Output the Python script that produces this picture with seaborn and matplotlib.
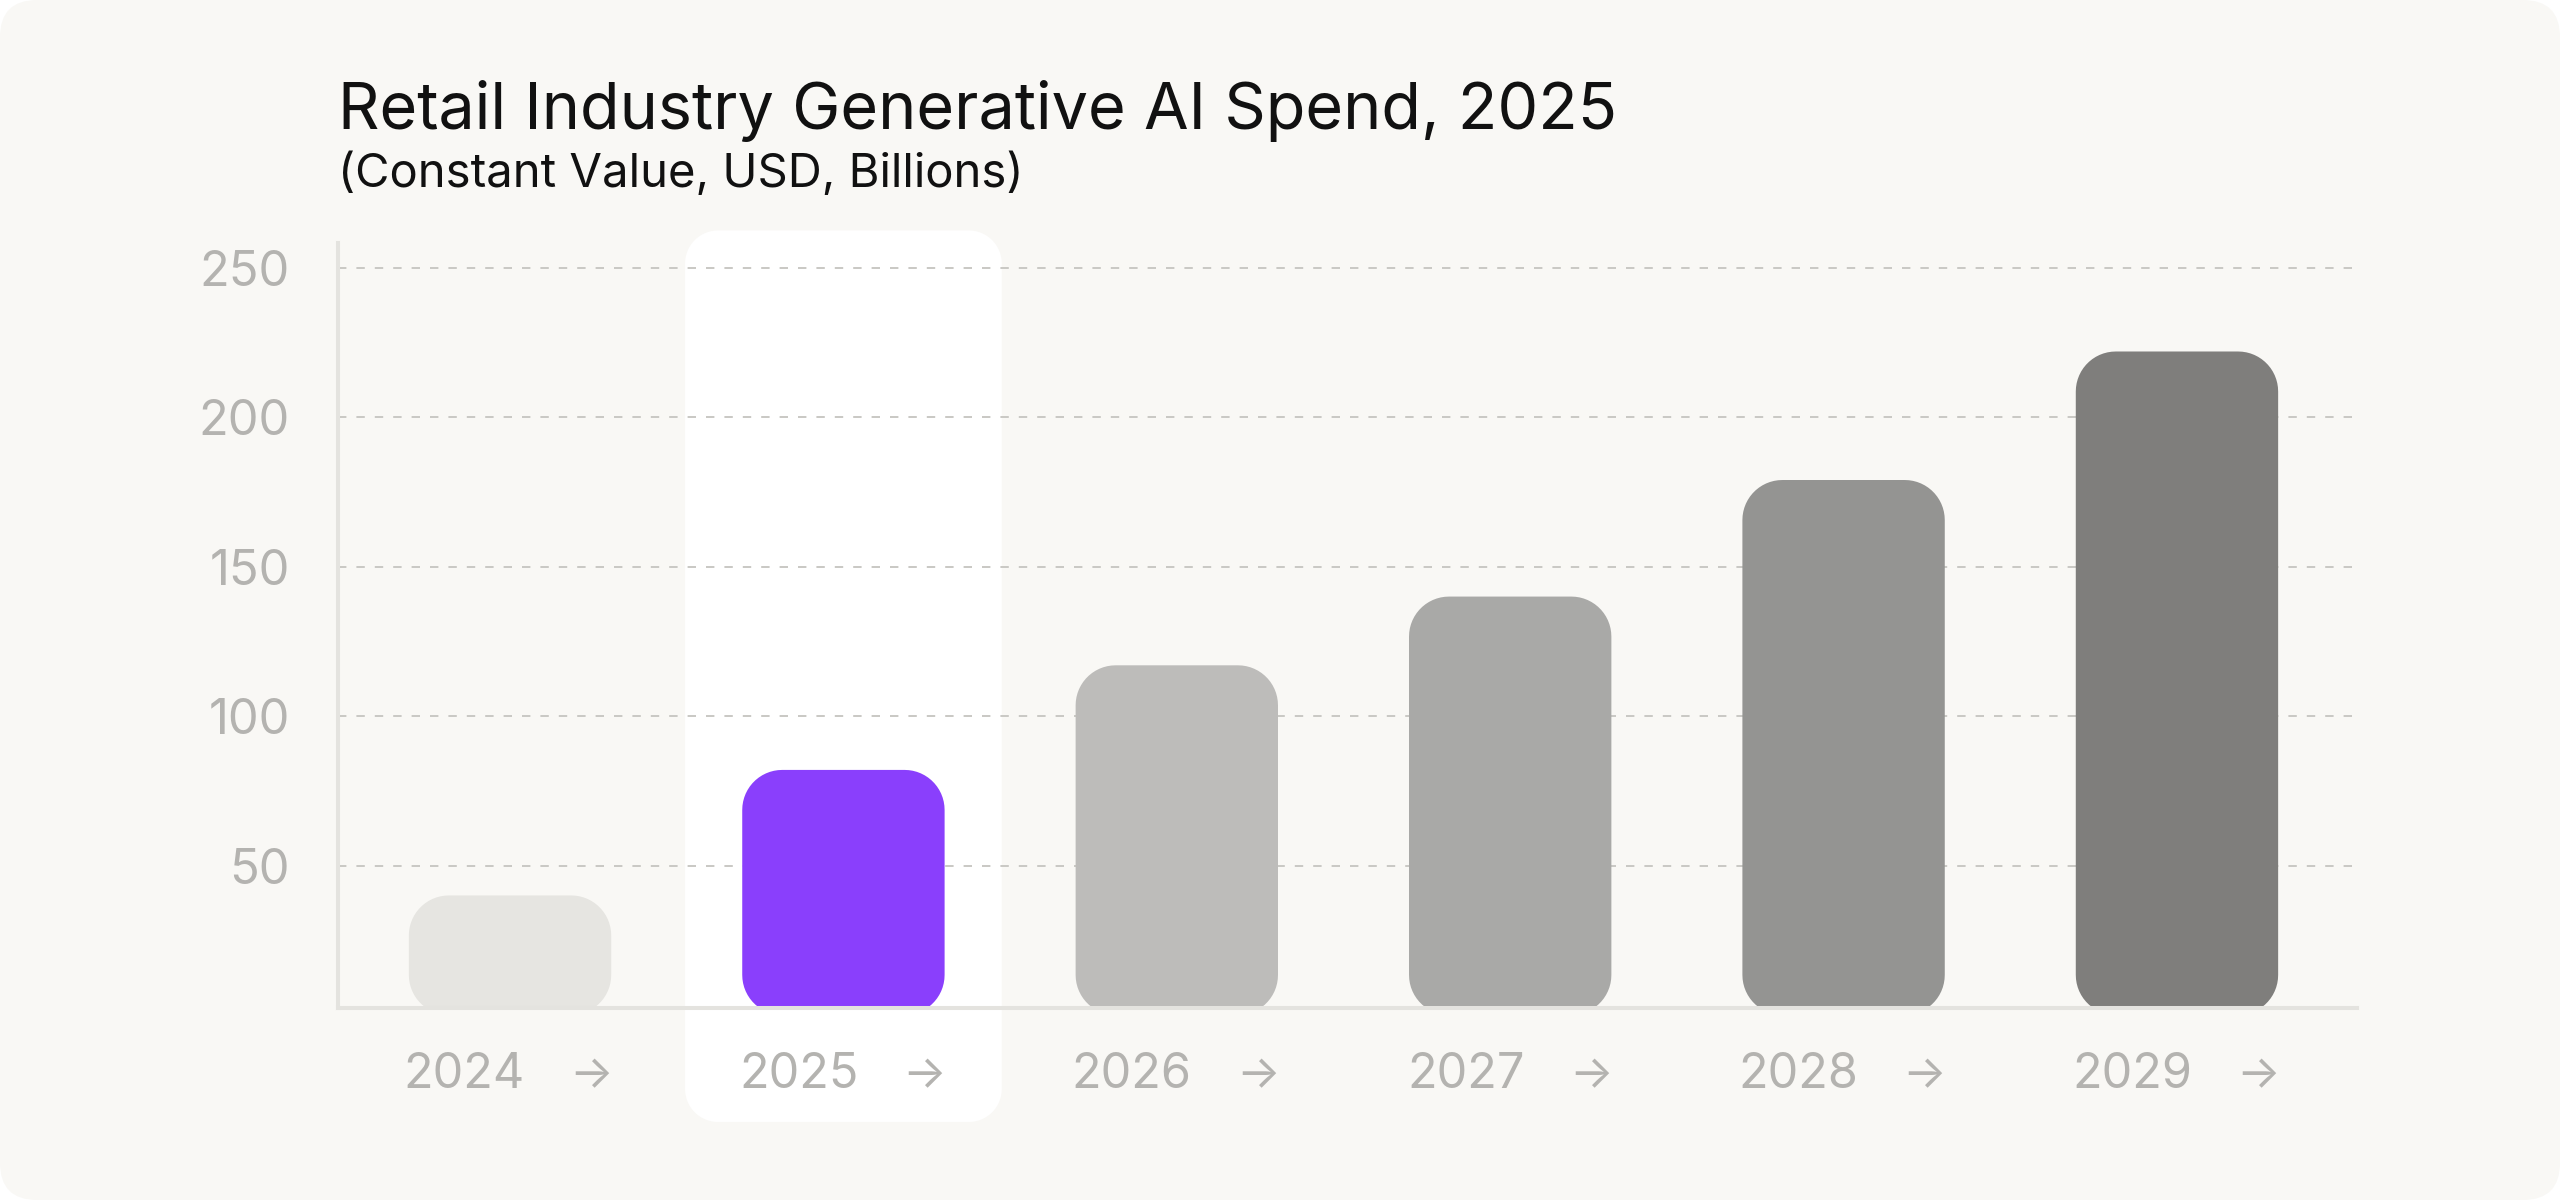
import matplotlib
matplotlib.use("Agg")
import matplotlib.pyplot as plt
from matplotlib.patches import FancyBboxPatch, Polygon
import seaborn as sns
import pandas as pd
import numpy as np

# data
years = ["2024", "2025", "2026", "2027", "2028", "2029"]
spend = [40, 82, 117, 140, 179, 222]
bar_colors = ["#e6e5e1", "#8a3ffc", "#bdbcba", "#a9a9a7", "#949492", "#7f7e7c"]
y_ticks = [50, 100, 150, 200, 250]
highlight = "2025"

title = "Retail Industry Generative AI Spend, 2025"
subtitle = "(Constant Value, USD, Billions)"

card_bg = "#f9f8f5"
label_grey = "#b4b3b0"

sns.set_theme(style="white")
plt.rcParams["font.family"] = ["Inter", "DejaVu Sans"]

W, H = 2560, 1200
fig = plt.figure(figsize=(W / 100, H / 100), dpi=100, facecolor="white")

# rounded card behind everything
card = FancyBboxPatch((0, 0), 1, 1, boxstyle="round,pad=0,rounding_size=0.0145",
                      mutation_aspect=W / H, transform=fig.transFigure,
                      fc=card_bg, ec="none", zorder=-10)
fig.patches.append(card)

ax_l, ax_r, ax_t, ax_b = 338, 2357, 243, 1008
ax = fig.add_axes([ax_l / W, 1 - ax_b / H, (ax_r - ax_l) / W, (ax_b - ax_t) / H])
ax.set_facecolor(card_bg)

df = pd.DataFrame({"year": years, "spend": spend})
sns.barplot(data=df, x="year", y="spend", hue="year", palette=bar_colors,
            width=0.607, legend=False, ax=ax, saturation=1)

xlim = (-0.516, 5.54)
ylim = (2.34, 258.3)
ax.set_xlim(*xlim)
ax.set_ylim(*ylim)

# data units per pixel, so corners come out circular on screen
x_per_px = (xlim[1] - xlim[0]) / (ax_r - ax_l)
y_per_px = (ylim[1] - ylim[0]) / (ax_b - ax_t)


def rounded_rect(x, y, w, h, r_px, **kw):
    rx, ry = r_px * x_per_px, r_px * y_per_px
    t = np.linspace(0, np.pi / 2, 16)
    pts = []
    # corners: top-right, top-left, bottom-left, bottom-right
    for cx, cy, a0 in [(x + w - rx, y + h - ry, 0), (x + rx, y + h - ry, np.pi / 2),
                       (x + rx, y + ry, np.pi), (x + w - rx, y + ry, 1.5 * np.pi)]:
        pts.append(np.column_stack([cx + rx * np.cos(a0 + t), cy + ry * np.sin(a0 + t)]))
    return Polygon(np.vstack(pts), closed=True, **kw)


# swap the plain bars for rounded ones
for p in list(ax.patches):
    x, y = p.get_x(), p.get_y()
    w, h = p.get_width(), p.get_height()
    fc = p.get_facecolor()
    p.remove()
    ax.add_patch(rounded_rect(x, y, w, h, 40, fc=fc, ec="none", zorder=2))

# white highlight column behind the selected year
hi = years.index(highlight)
ax.add_patch(rounded_rect(hi - 0.475, -35.8, 0.95, 298.3, 33, fc="white", ec="none",
                          zorder=0.2, clip_on=False))

# grid and spines
ax.set_axisbelow(True)
ax.set_yticks(y_ticks)
ax.yaxis.grid(True, color="#cac9c5", linewidth=1.44, linestyle=(0, (4.2, 5)))
ax.xaxis.grid(False)
for side in ["top", "right"]:
    ax.spines[side].set_visible(False)
for side in ["left", "bottom"]:
    ax.spines[side].set_color("#e4e3df")
    ax.spines[side].set_linewidth(2.9)
    ax.spines[side].set_zorder(3)

ax.tick_params(axis="y", length=0, pad=34.5, labelsize=35.2, labelcolor=label_grey)
ax.set_xticks([])
ax.set_xlabel("")
ax.set_ylabel("")

# year labels with arrows
trans = ax.get_xaxis_transform()
for i, yr in enumerate(years):
    ax.text(i + 0.045, -0.105, yr, transform=trans, ha="right", va="baseline",
            fontsize=35, color=label_grey)
    ax.text(i + 0.243, -0.105, "\u2192", transform=trans, ha="center", va="baseline",
            fontsize=33, color=label_grey)

fig.text(338 / W, 1 - 129 / H, title, ha="left", va="baseline",
         fontsize=46.6, color="#111111")
fig.text(338 / W, 1 - 187 / H, subtitle, ha="left", va="baseline",
         fontsize=34, color="#111111")

fig.savefig("out.png", dpi=100, facecolor="white")
